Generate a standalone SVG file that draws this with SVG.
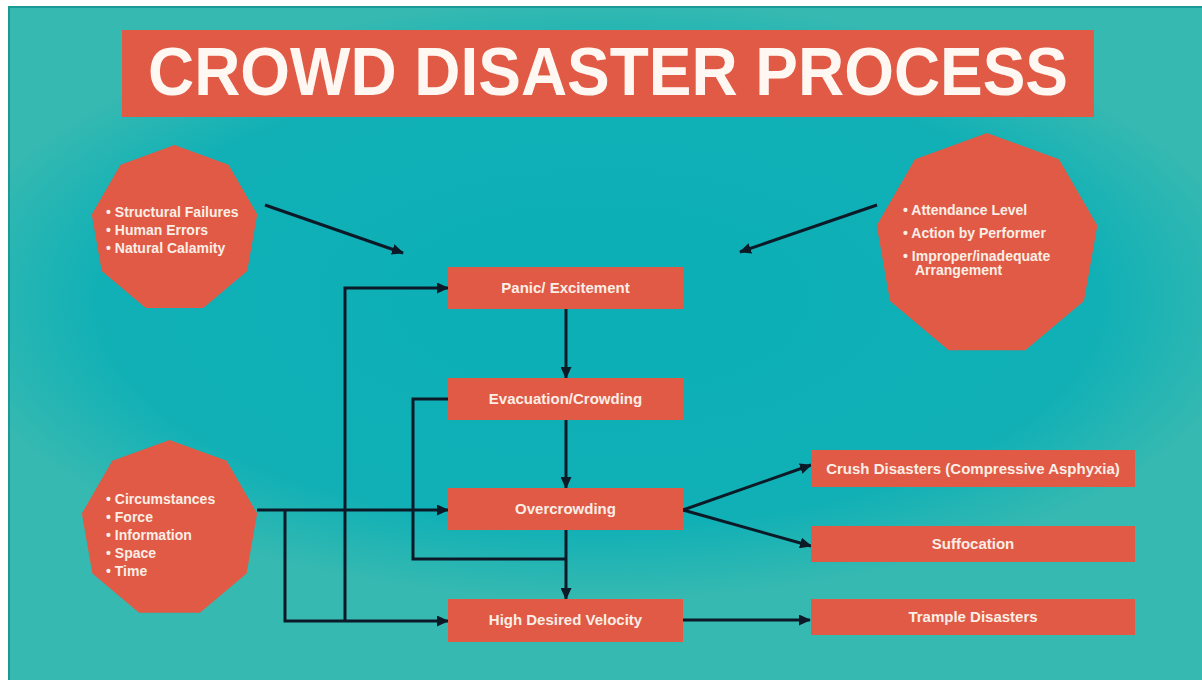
<svg xmlns="http://www.w3.org/2000/svg" xmlns:xlink="http://www.w3.org/1999/xlink" width="1202" height="680" viewBox="0 0 1202 680">
  <style>
    .box { fill: #e05a45; }
    .title { font-family: "Liberation Sans", Arial, sans-serif; font-weight: bold; fill: #fff8f2; }
    .lbl { font-family: "Liberation Sans", Arial, sans-serif; font-weight: bold; font-size: 15px; fill: #fbeee6; text-anchor: middle; }
    .bul { font-family: "Liberation Sans", Arial, sans-serif; font-weight: bold; font-size: 14px; fill: #fbeee6; }
    .conn { fill: none; stroke: #0c1a28; stroke-width: 3; }
    .arr { marker-end: url(#ah); }
  </style>
  <defs>
    <marker id="ah" markerUnits="userSpaceOnUse" markerWidth="12" markerHeight="11" refX="11" refY="5.5" orient="auto">
      <path d="M0,0 L12,5.5 L0,11 z" fill="#0c1a28"/>
    </marker>
    <polygon id="nona" points="0,-1 0.6428,-0.766 0.9848,-0.1736 0.866,0.5 0.342,0.9397 -0.342,0.9397 -0.866,0.5 -0.9848,-0.1736 -0.6428,-0.766"/>
    <radialGradient id="bgg" cx="0.5" cy="0.5" r="0.5">
      <stop offset="0" stop-color="#0cafb6"/>
      <stop offset="0.75" stop-color="#10b0b6"/>
      <stop offset="1" stop-color="#10b0b6" stop-opacity="0"/>
    </radialGradient>
    <clipPath id="bgclip">
      <rect x="8" y="6" width="1194" height="674"/>
    </clipPath>
  </defs>

  <g id="background">
    <rect x="0" y="0" width="1202" height="680" fill="#ffffff"/>
    <rect x="8" y="6" width="1194" height="674" fill="#36b9b1"/>
    <ellipse cx="600" cy="300" rx="660" ry="300" fill="url(#bgg)" clip-path="url(#bgclip)"/>
    <polyline points="9,680 9,7 1202,7" fill="none" stroke="#1a9a96" stroke-width="2"/>
  </g>

  <g id="title">
    <rect class="box" x="122" y="30" width="972" height="87"/>
    <text class="title" x="608" y="95" font-size="68" text-anchor="middle" textLength="920" lengthAdjust="spacingAndGlyphs">CROWD DISASTER PROCESS</text>
  </g>

  <g id="connectors">
    <line class="conn arr" x1="265" y1="205" x2="403" y2="253"/>
    <line class="conn arr" x1="877" y1="205" x2="740" y2="252"/>
    <line class="conn arr" x1="566" y1="309" x2="566" y2="378"/>
    <line class="conn arr" x1="566" y1="420" x2="566" y2="488"/>
    <line class="conn arr" x1="566" y1="530" x2="566" y2="599"/>
    <polyline class="conn" points="448,399 413,399 413,559 566,559"/>
    <line class="conn arr" x1="257" y1="510" x2="448" y2="510"/>
    <polyline class="conn arr" points="285,510 285,621 448,621"/>
    <polyline class="conn arr" points="345,621 345,288 448,288"/>
    <line class="conn arr" x1="683" y1="510" x2="811" y2="465"/>
    <line class="conn arr" x1="683" y1="510" x2="811" y2="546"/>
    <line class="conn arr" x1="683" y1="620" x2="810" y2="620"/>
  </g>

  <g id="factors-structural">
    <use xlink:href="#nona" href="#nona" class="box" transform="translate(174.5,229) scale(84)"/>
    <text class="bul" x="106" y="217">• Structural Failures</text>
    <text class="bul" x="106" y="235">• Human Errors</text>
    <text class="bul" x="106" y="253">• Natural Calamity</text>
  </g>

  <g id="factors-event">
    <use xlink:href="#nona" href="#nona" class="box" transform="translate(987,245) scale(112)"/>
    <text class="bul" x="903" y="215">• Attendance Level</text>
    <text class="bul" x="903" y="238">• Action by Performer</text>
    <text class="bul" x="903" y="261">• Improper/inadequate</text>
    <text class="bul" x="915" y="275">Arrangement</text>
  </g>

  <g id="factors-conditions">
    <use xlink:href="#nona" href="#nona" class="box" transform="translate(169.5,529) scale(89)"/>
    <text class="bul" x="106" y="504">• Circumstances</text>
    <text class="bul" x="106" y="522">• Force</text>
    <text class="bul" x="106" y="540">• Information</text>
    <text class="bul" x="106" y="558">• Space</text>
    <text class="bul" x="106" y="576">• Time</text>
  </g>

  <g id="panic">
    <rect class="box" x="448" y="267" width="235" height="42"/>
    <text class="lbl" x="565.5" y="293">Panic/ Excitement</text>
  </g>
  <g id="evacuation">
    <rect class="box" x="448" y="378" width="235" height="42"/>
    <text class="lbl" x="565.5" y="404">Evacuation/Crowding</text>
  </g>
  <g id="overcrowding">
    <rect class="box" x="448" y="488" width="235" height="42"/>
    <text class="lbl" x="565.5" y="514">Overcrowding</text>
  </g>
  <g id="velocity">
    <rect class="box" x="448" y="599" width="235" height="43"/>
    <text class="lbl" x="565.5" y="625">High Desired Velocity</text>
  </g>
  <g id="crush">
    <rect class="box" x="811" y="450" width="324" height="37"/>
    <text class="lbl" x="973" y="474">Crush Disasters (Compressive Asphyxia)</text>
  </g>
  <g id="suffocation">
    <rect class="box" x="811" y="526" width="324" height="36"/>
    <text class="lbl" x="973" y="549">Suffocation</text>
  </g>
  <g id="trample">
    <rect class="box" x="811" y="599" width="324" height="36"/>
    <text class="lbl" x="973" y="622">Trample Disasters</text>
  </g>
</svg>
